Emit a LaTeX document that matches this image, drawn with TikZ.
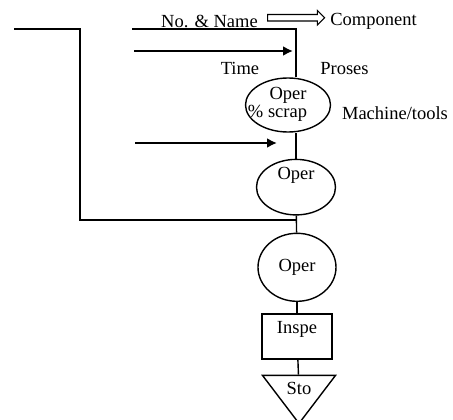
\documentclass[tikz,border=0pt]{standalone}
\usepackage{fontspec}
\setmainfont{Liberation Serif}
\usepackage{tikz}
\usetikzlibrary{positioning,shapes.geometric,shapes.arrows,arrows.meta}
\tikzstyle{txt}=[font=\fontsize{18.5}{20}\selectfont, inner sep=0pt]
\tikzstyle{oper}=[draw, ellipse, line width=1.4pt, inner sep=0pt,
        font=\fontsize{18.5}{20}\selectfont]
\tikzstyle{inspe}=[draw, rectangle, line width=1.7pt, inner sep=0pt,
        minimum width=70pt, minimum height=45pt, font=\fontsize{18.5}{20}\selectfont]
\tikzstyle{sto}=[draw, isosceles triangle, isosceles triangle stretches,
        shape border rotate=270, line width=1.4pt, inner sep=0pt,
        minimum width=73pt, minimum height=48pt, font=\fontsize{18.5}{20}\selectfont]
\tikzstyle{flow}=[line width=1.4pt]
\tikzstyle{feed}=[line width=2.8pt, -{Latex[length=10pt, width=10pt]}]

\begin{document}
\begin{tikzpicture}[x=1pt, y=-1pt]
        \useasboundingbox (0,0) rectangle (453,420);

        \node[oper, minimum width=85pt, minimum height=54pt, text depth=23pt] (0)
            at (288,105) {Oper};
        \node[oper, below=26pt of 0, xshift=8pt, minimum width=79pt,
            minimum height=55pt, text depth=27pt] (1) {Oper};
        \node[oper, below=17pt of 1, xshift=1pt, minimum width=78pt,
            minimum height=68pt] (2) {Oper};
        \node[inspe, below=11pt of 2, text depth=18pt] (3) {Inspe};
        \node[sto, below=15pt of 3, xshift=2pt] (4) {Sto};

        \node[txt] (name) at (209.5,21.6) {No. \& Name};
        \node[draw, single arrow, line width=1.1pt, inner sep=0pt, inner ysep=2.7pt,
            minimum height=57pt, single arrow head extend=4pt] (comp) at (294.5,17.8) {};
        \node[txt] (component) at (373.5,21.6) {Component};
        \node[txt] (time) at (240,68.6) {Time};
        \node[txt] (proses) at (344.5,68.6) {Proses};
        \node[txt] (scrap) at (277.5,113) {\% scrap};
        \node[txt] (tools) at (395,113.5) {Machine/tools};

        \coordinate (a) at (14,29);
        \coordinate (b) at (80,29);
        \coordinate (c) at (80,220);
        \coordinate (d) at (296,220);
        \coordinate (e) at (132,29);
        \coordinate (f) at (296,29);
        \coordinate (g) at (134,51);
        \coordinate (h) at (293,51);
        \coordinate (i) at (135,143);
        \coordinate (j) at (277,143);

        \draw[flow] (a) -- (b) -- (c) -- (d);
        \draw[flow] (e) -- (f) -- (f |- 0.north);
        \draw[flow] (1.north) -- (1.north |- 0.south);
        \draw[flow] (1) -- (2);
        \draw[flow] (2) -- (3);
        \draw[flow] (3) -- (4);
        \draw[feed] (g) -- (h);
        \draw[feed] (i) -- (j);
    \end{tikzpicture}
\end{document}
